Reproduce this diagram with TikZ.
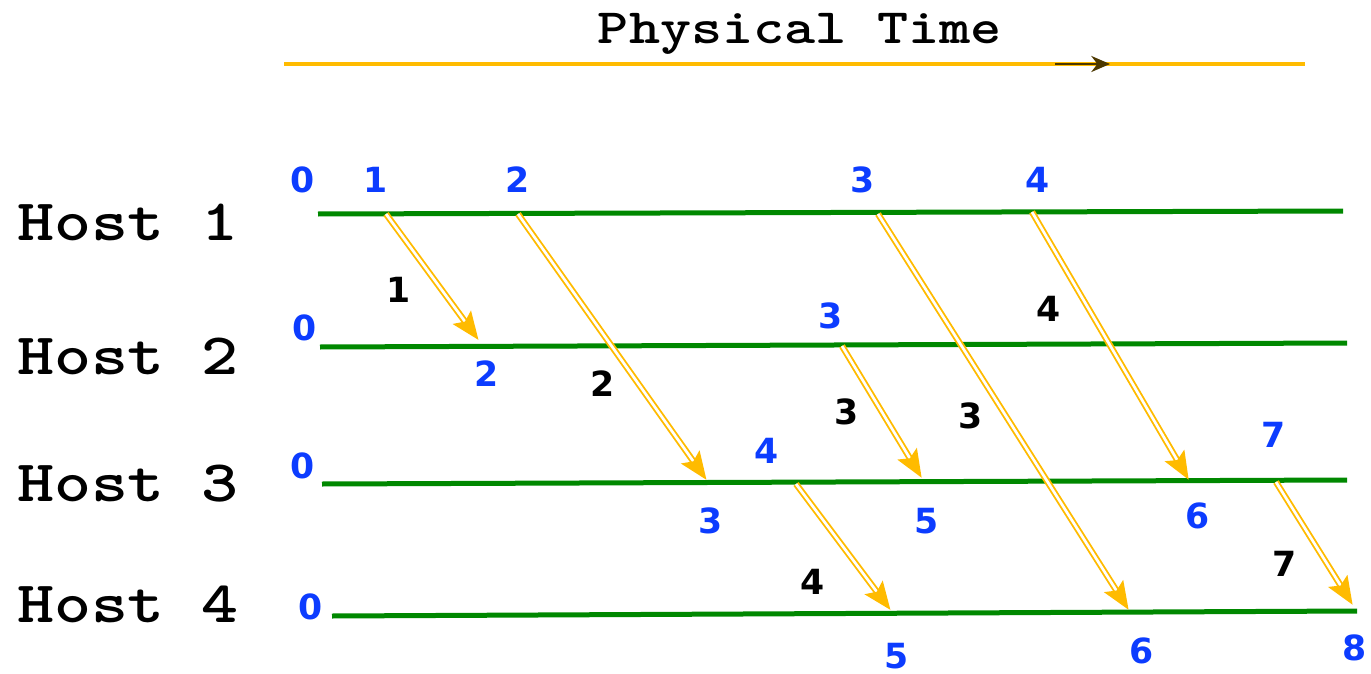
\documentclass[tikz,border=0pt]{standalone}
\usepackage{fontspec}
\usepackage{tikz}
\usetikzlibrary{arrows.meta,positioning}
\newfontfamily\numfont{DejaVu Sans}
\definecolor{linec}{HTML}{008800}
\definecolor{msgc}{HTML}{FFBB00}
\definecolor{tsc}{HTML}{0C3CFF}
\tikzset{
  hl/.style={linec,line width=3.75pt},
  msg/.style={msgc,double,line width=1.4pt,double distance=2pt,shorten >=2pt,
    -{Stealth[length=21pt,width=17pt,inset=4pt]}},
  hostlbl/.style={anchor=base,inner sep=0pt,xscale=1.2,font=\ttfamily\bfseries\fontsize{44pt}{44pt}\selectfont},
  ts/.style={inner sep=0pt,text=tsc,font=\numfont\bfseries\fontsize{26pt}{26pt}\selectfont},
  ml/.style={inner sep=0pt,text=black,font=\numfont\bfseries\fontsize{26pt}{26pt}\selectfont}
}
\begin{document}
\begin{tikzpicture}[x=0.75pt,y=-0.75pt]
\useasboundingbox (0,0) rectangle (1371,674);
% physical time axis
\node[anchor=base,inner sep=0pt,xscale=1.2,font=\ttfamily\bfseries\fontsize{37pt}{37pt}\selectfont] (ttl) at (800,44) {Physical Time};
\coordinate (t0) at (284,64);
\coordinate (t1) at (1305,64);
\coordinate (ta) at (1055,64);
\coordinate (tb) at (1110,64);
\draw[msgc,line width=2.5pt] (t0) -- (t1);
\draw[black!70!msgc,line width=2pt,-{Stealth[length=14pt,width=12pt]}] (ta) -- (tb);
% hosts
\node[hostlbl] (h1) at (128,240) {Host 1};
\node[hostlbl] (h2) at (128,374) {Host 2};
\node[hostlbl] (h3) at (128,501) {Host 3};
\node[hostlbl] (h4) at (128,622) {Host 4};
\coordinate (a1) at (318,214); \coordinate (b1) at (1343,211);
\coordinate (a2) at (320,347); \coordinate (b2) at (1347,343);
\coordinate (a3) at (322,484); \coordinate (b3) at (1347,480);
\coordinate (a4) at (332,616); \coordinate (b4) at (1357,611);
\draw[hl] (a1) -- (b1);
\draw[hl] (a2) -- (b2);
\draw[hl] (a3) -- (b3);
\draw[hl] (a4) -- (b4);
% send / receive events
\coordinate (s1) at (386,214);  \coordinate (r1) at (480,342);
\coordinate (s2) at (518,214);  \coordinate (r2) at (708,482);
\coordinate (s3) at (878,214);  \coordinate (r3) at (1130,612);
\coordinate (s4) at (1032,212); \coordinate (r4) at (1190,482);
\coordinate (s5) at (842,346);  \coordinate (r5) at (923,480);
\coordinate (s6) at (796,484);  \coordinate (r6) at (892,612);
\coordinate (s7) at (1276,482); \coordinate (r7) at (1354,607);
\foreach \i in {1,...,7}{\draw[msg] (s\i) -- (r\i);}
% message labels
\node[ml] (m1) at (399,290) {1};
\node[ml] (m2) at (603,384) {2};
\node[ml] (m3) at (847,412) {3};
\node[ml] (m3b) at (971,416) {3};
\node[ml] (m4) at (1049,309) {4};
\node[ml] (m4b) at (813,582) {4};
\node[ml] (m7) at (1285,564) {7};
% clocks
\node[ts] (c10) at (303,180) {0};
\node[ts] (c11) at (376,180) {1};
\node[ts] (c12) at (518,180) {2};
\node[ts] (c13) at (863,180) {3};
\node[ts] (c14) at (1038,180) {4};
\node[ts] (c20) at (305,328) {0};
\node[ts] (c23) at (831,316) {3};
\node[ts] (c22) at (487,374) {2};
\node[ts] (c30) at (303,466) {0};
\node[ts] (c34) at (767,451) {4};
\node[ts] (c37) at (1274,435) {7};
\node[ts] (c33) at (711,521) {3};
\node[ts] (c35) at (927,521) {5};
\node[ts] (c36) at (1198,516) {6};
\node[ts] (c40) at (311,607) {0};
\node[ts] (c45) at (897,656) {5};
\node[ts] (c46) at (1142,651) {6};
\node[ts] (c48) at (1355,648) {8};
\end{tikzpicture}
\end{document}
